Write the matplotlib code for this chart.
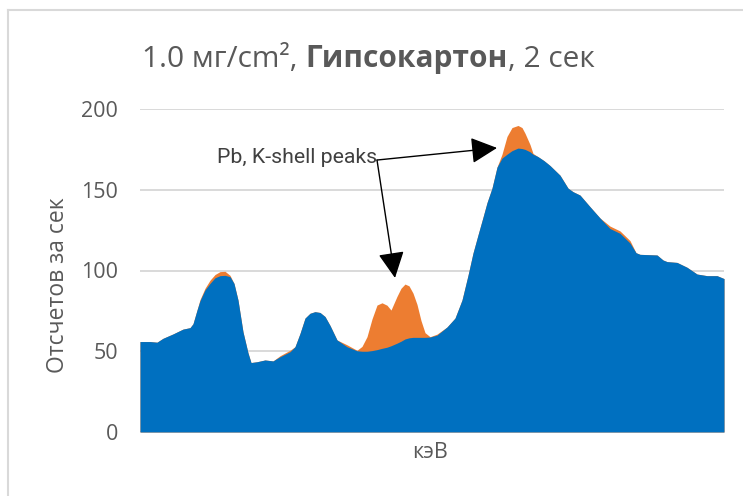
import matplotlib
matplotlib.use("Agg")
import matplotlib.pyplot as plt
from matplotlib.lines import Line2D

# detector channel and counts per second for the two spectra
channel = [0, 10, 17, 23, 33, 43, 50, 53, 57, 60,
           65, 70, 75, 80, 85, 90, 94, 98, 103, 108,
           111, 117, 125, 133, 140, 150, 155, 160, 165, 170,
           175, 180, 185, 190, 197, 207, 217, 222, 227, 232,
           237, 242, 247, 251, 257, 261, 265, 269, 273, 277,
           281, 285, 290, 297, 307, 315, 322, 328, 333, 338,
           343, 347, 352, 357, 362, 367, 372, 378, 382, 385,
           390, 393, 398, 404, 410, 415, 420, 428, 433, 440,
           450, 460, 470, 480, 490, 496, 500, 517, 523, 527,
           537, 547, 557, 567, 577, 584]

no_pb = [56, 56, 55.6, 58, 60.7, 63.7, 64.6, 67, 75.5, 81.3,
         88, 92, 95.5, 96.8, 97, 96.2, 92, 81.7, 62, 49,
         43, 43.5, 44.6, 44, 46.6, 49.7, 52.8, 61, 70.5, 73.5,
         74.5, 74, 71.5, 66, 57, 52.8, 50.3, 50, 50, 50.4,
         51, 51.8, 52.5, 53.4, 55, 56.2, 57.6, 58.3, 58.6, 58.6,
         58.6, 58.6, 58.8, 60, 65, 70.5, 81.7, 97, 110.8, 122,
         133, 142, 151, 164, 169.6, 172, 174.2, 175.8, 175.5, 175,
         173.5, 172, 170.5, 168, 165, 162, 159, 151, 148.8, 146.7,
         139.5, 132.5, 126, 123, 117, 111, 110, 109.6, 106.5, 105.5,
         105, 102, 97.8, 96.8, 96.8, 95]

with_pb = [56, 56, 55.6, 58, 60.7, 63.7, 64.6, 67, 75.5, 82,
           89, 94, 97.5, 99.3, 99.5, 97, 92, 81.7, 62, 49,
           43, 43.5, 44.6, 44, 47.2, 50.6, 52.8, 61, 70.5, 73.5,
           74.5, 74, 71.5, 66, 57, 54, 50.6, 53, 59, 70,
           78.6, 80, 78.5, 75.5, 84, 89, 91.6, 90.5, 86, 79,
           69, 61.5, 59, 60.6, 65, 70.5, 81.7, 97, 110.8, 122,
           133, 142, 151, 164, 172, 183, 188.5, 189.8, 188.5, 185,
           178, 172.5, 170.5, 168, 165, 162, 159, 151, 148.8, 146.7,
           139.5, 132.5, 127.5, 124.5, 118.5, 111, 110, 109.6, 106.5, 105.5,
           105, 102, 97.8, 96.8, 96.8, 95]

y_ticks = [0, 50, 100, 150, 200]

label_text = "Pb, K-shell peaks"
label_xy = (237, 169.7)
arrow_from = (237, 168.4)
arrow_tips = [(357, 175.9), (255, 95.4)]

plt.rcParams['font.family'] = ['Open Sans', 'DejaVu Sans']
grey = '#595959'

W, H = 743, 496
fig = plt.figure(figsize=(W / 100, H / 100), dpi=100)
ax = fig.add_axes([140 / W, 1 - 432 / H, 584 / W, 323 / H])

ax.fill_between(channel, with_pb, color='#ED7D31', lw=0, zorder=2)
ax.fill_between(channel, no_pb, color='#0070C0', lw=0, zorder=3)

ax.set_xlim(channel[0], channel[-1])
ax.set_ylim(0, 200)
ax.set_yticks(y_ticks)
ax.set_xticks([])
ax.grid(axis='y', color='#d9d9d9', lw=1.4, zorder=0)
ax.set_axisbelow(True)
for s in ax.spines.values():
    s.set_visible(False)
ax.tick_params(axis='y', length=0, pad=16, labelsize=15.5, labelcolor=grey)

fig.text(58 / W, 1 - 285 / H, "Отсчетов за сек", rotation=90, ha='center',
         va='center', fontsize=16.5, color=grey)
fig.text(430 / W, 1 - 452 / H, "кэВ", ha='center', va='center',
         fontsize=15.5, color=grey)

# title with a bold middle part
parts = [("1.0 мг/cm², ", 'normal'), ("Гипсокартон", 'bold'), (", 2 сек", 'normal')]
fig.canvas.draw()
r = fig.canvas.get_renderer()
objs = []
for t, w in parts:
    objs.append(fig.text(0, 1 - 67 / H, t, fontsize=21.5, fontweight=w,
                         color=grey, ha='left', va='baseline'))
widths = [o.get_window_extent(r).width for o in objs]
x0 = 368.5 - sum(widths) / 2
for o, wd in zip(objs, widths):
    o.set_x(x0 / W)
    x0 += wd

# annotation
ax.text(label_xy[0], label_xy[1], label_text, ha='right', va='center',
        fontsize=15.3, color='#404040',
        family=['Roboto', 'DejaVu Sans'], zorder=5)
for tip in arrow_tips:
    ax.annotate('', xy=tip, xytext=arrow_from,
                arrowprops=dict(arrowstyle='-|>,head_length=0.9,head_width=0.45',
                                color='black', lw=1, shrinkA=0, shrinkB=0,
                                mutation_scale=18), zorder=6)

# chart frame
fig.add_artist(Line2D([8 / W, 8 / W], [0, 1 - 10 / H], color='#d9d9d9', lw=1.5))
fig.add_artist(Line2D([8 / W, 1], [1 - 10 / H, 1 - 10 / H], color='#d9d9d9', lw=1.5))

fig.savefig("out.png", dpi=100)
